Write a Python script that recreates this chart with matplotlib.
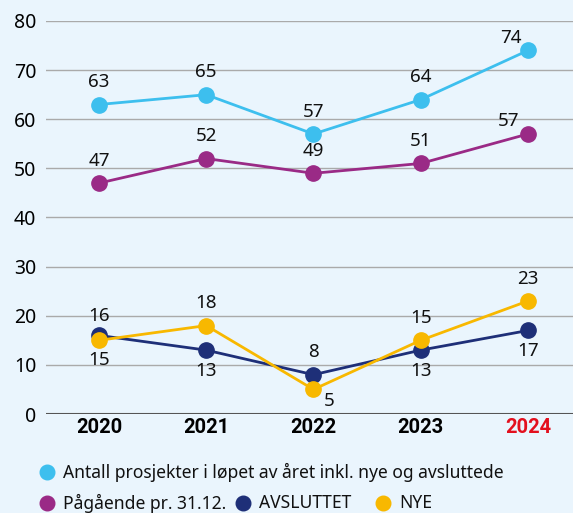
import matplotlib.pyplot as plt

# data
years = ['2020', '2021', '2022', '2023', '2024']
antall = [63, 65, 57, 64, 74]
pagaende = [47, 52, 49, 51, 57]
avsluttet = [16, 13, 8, 13, 17]
nye = [15, 18, 5, 15, 23]

bg = '#EAF5FD'
c_antall = '#3DBFEE'
c_pag = '#9A2A86'
c_avs = '#1E2F78'
c_nye = '#F8B800'

plt.rcParams['font.family'] = ['Noto Sans', 'DejaVu Sans']

fig = plt.figure(figsize=(5.73, 5.13), dpi=100, facecolor=bg)
ax = fig.add_axes([46/573, 99/513, 527/573, 393/513])
ax.set_facecolor(bg)

x = range(len(years))
lw = 2.0
ms = 11
ax.plot(x, antall, color=c_antall, lw=lw, marker='o', ms=ms, zorder=3)
ax.plot(x, pagaende, color=c_pag, lw=lw, marker='o', ms=ms, zorder=3)
ax.plot(x, avsluttet, color=c_avs, lw=lw, marker='o', ms=ms, zorder=3)
ax.plot(x, nye, color=c_nye, lw=lw, marker='o', ms=ms, zorder=4)

fs = 13.5
def lab(i, v, dy, dx=0):
    ax.annotate(str(v), (i, v), xytext=(dx, dy), textcoords='offset points',
                ha='center', va='center', fontsize=fs, color='#111111')

# label offsets (points)
ant_off = [(0, 16), (0, 16), (0, 16), (0, 16), (-12, 9)]
pag_off = [(0, 16), (0, 16), (0, 16), (0, 16), (-14, 9)]
avs_off = [(0, 14), (0, -15), (0, 16), (0, -15), (0, -15)]
nye_off = [(0, -14.5), (0, 16), (11, -8), (0, 16), (0, 16)]
for vals, offs in [(antall, ant_off), (pagaende, pag_off), (avsluttet, avs_off), (nye, nye_off)]:
    for i, v in enumerate(vals):
        lab(i, v, offs[i][1], offs[i][0])

ax.set_ylim(0, 80)
ax.set_xlim(-0.494, 4.42)
ax.set_yticks(range(0, 81, 10))
ax.set_xticks(list(x))
ax.set_xticklabels(years, fontsize=14.5, fontweight='bold', family=['Roboto', 'DejaVu Sans'])
ax.get_xticklabels()[-1].set_color('#E3101E')
ax.tick_params(axis='y', labelsize=14, length=0, pad=7)
ax.tick_params(axis='x', length=0, pad=3)
ax.grid(axis='y', color='#AAAAAA', lw=1)
for s in ax.spines.values():
    s.set_visible(False)
ax.axhline(0, color='#555555', lw=1.5, zorder=2)

# legend
def leg(xp, yp, col, txt):
    fig.add_artist(plt.Line2D([xp/573], [1 - yp/513], marker='o', ms=10.5,
                              color=col, lw=0, transform=fig.transFigure))
    fig.text((xp + 16)/573, 1 - yp/513, txt, fontsize=12.6, va='center', color='#111111')

leg(47, 472, c_antall, 'Antall prosjekter i løpet av året inkl. nye og avsluttede')
leg(47, 503, c_pag, 'Pågående pr. 31.12.')
leg(243, 503, c_avs, 'AVSLUTTET')
leg(383, 503, c_nye, 'NYE')

plt.savefig('out.png', dpi=100, facecolor=bg)
